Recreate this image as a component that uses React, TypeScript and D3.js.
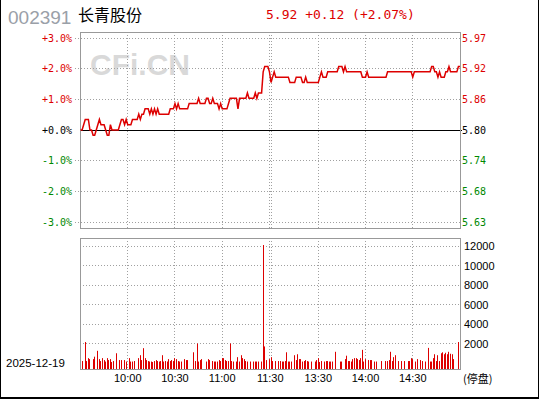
import React from 'react'
import * as d3 from 'd3'

// minute prices 9:30-11:30 (0..120) and 13:00-15:00 (121..241)
const prices = [
  5.80, 5.80, 5.81, 5.82, 5.82, 5.82, 5.80, 5.80, 5.79, 5.79,
  5.80, 5.81, 5.82, 5.81, 5.81, 5.81, 5.80, 5.79, 5.79, 5.81,
  5.80, 5.80, 5.80, 5.80, 5.80, 5.81, 5.82, 5.82, 5.81, 5.82,
  5.81, 5.81, 5.81, 5.82, 5.82, 5.82, 5.82, 5.83, 5.82, 5.83,
  5.83, 5.84, 5.84, 5.84, 5.83, 5.84, 5.83, 5.84, 5.83, 5.84,
  5.83, 5.83, 5.83, 5.83, 5.83, 5.83, 5.83, 5.84, 5.84, 5.84,
  5.85, 5.84, 5.85, 5.84, 5.84, 5.84, 5.84, 5.84, 5.84, 5.85,
  5.85, 5.85, 5.85, 5.85, 5.85, 5.86, 5.85, 5.85, 5.85, 5.85,
  5.86, 5.86, 5.85, 5.85, 5.86, 5.85, 5.85, 5.85, 5.84, 5.85,
  5.84, 5.84, 5.84, 5.84, 5.85, 5.86, 5.86, 5.86, 5.86, 5.86,
  5.84, 5.86, 5.86, 5.86, 5.86, 5.86, 5.87, 5.86, 5.86, 5.86,
  5.86, 5.87, 5.86, 5.87, 5.87, 5.87, 5.91, 5.92, 5.92, 5.92,
  5.91, 5.89, 5.90, 5.91, 5.90, 5.90, 5.90, 5.90, 5.90, 5.90,
  5.90, 5.90, 5.90, 5.89, 5.89, 5.89, 5.89, 5.90, 5.90, 5.90,
  5.90, 5.89, 5.89, 5.90, 5.89, 5.89, 5.89, 5.89, 5.89, 5.89,
  5.89, 5.89, 5.90, 5.91, 5.90, 5.90, 5.90, 5.91, 5.91, 5.91,
  5.91, 5.91, 5.91, 5.91, 5.92, 5.92, 5.92, 5.91, 5.92, 5.91,
  5.91, 5.91, 5.91, 5.91, 5.91, 5.91, 5.91, 5.91, 5.91, 5.90,
  5.90, 5.90, 5.91, 5.90, 5.90, 5.90, 5.90, 5.90, 5.90, 5.90,
  5.90, 5.90, 5.90, 5.90, 5.90, 5.91, 5.91, 5.91, 5.91, 5.91,
  5.91, 5.91, 5.91, 5.91, 5.91, 5.91, 5.91, 5.91, 5.91, 5.91,
  5.91, 5.90, 5.91, 5.91, 5.91, 5.91, 5.91, 5.91, 5.91, 5.91,
  5.91, 5.91, 5.91, 5.92, 5.92, 5.91, 5.91, 5.90, 5.91, 5.90,
  5.90, 5.90, 5.91, 5.91, 5.92, 5.91, 5.91, 5.91, 5.91, 5.91,
  5.92, 5.92,
]

const volumes = [
  0, 200, 0, 2150, 200, 500, 400, 0, 400, 650,
  0, 1250, 400, 200, 500, 300, 150, 500, 300, 400,
  100, 200, 0, 1000, 0, 300, 300, 0, 300, 150,
  0, 500, 150, 150, 200, 0, 0, 500, 800, 300,
  1520, 500, 300, 200, 150, 150, 100, 200, 300, 200,
  150, 200, 800, 150, 200, 150, 400, 200, 300, 200,
  500, 400, 200, 150, 150, 0, 400, 300, 300, 0,
  0, 0, 1100, 200, 2000, 150, 300, 400, 0, 0,
  150, 400, 300, 0, 200, 150, 150, 150, 300, 200,
  500, 500, 300, 200, 200, 2000, 200, 150, 0, 150,
  600, 150, 800, 500, 400, 200, 150, 0, 150, 0,
  150, 150, 150, 150, 0, 150, 12100, 1700, 300, 0,
  400, 600, 200, 0, 200, 0, 200, 200, 150, 150,
  200, 1100, 150, 150, 150, 0, 800, 300, 900, 400,
  400, 150, 200, 300, 200, 150, 0, 150, 0, 150,
  300, 500, 100, 200, 0, 150, 200, 200, 150, 150,
  150, 0, 1150, 0, 0, 150, 150, 0, 400, 750,
  200, 200, 150, 400, 500, 500, 400, 300, 500, 1350,
  150, 400, 0, 300, 300, 300, 0, 150, 150, 0,
  0, 200, 0, 0, 200, 200, 300, 1150, 200, 600,
  800, 0, 200, 0, 200, 0, 200, 0, 200, 200,
  500, 400, 0, 150, 400, 0, 300, 200, 0, 150,
  0, 1550, 150, 150, 500, 900, 200, 800, 200, 1000,
  1100, 900, 1050, 900, 1150, 950, 900, 400, 0, 0,
  2150, 0,
]

const prevClose = 5.80
const pctTicks = [3, 2, 1, 0, -1, -2, -3]
const priceLabels = ['5.97', '5.92', '5.86', '5.80', '5.74', '5.68', '5.63']
const volTicks = [12000, 10000, 8000, 6000, 4000, 2000]
const timeLabels = ['10:00', '10:30', '11:00', '11:30', '13:30', '14:00', '14:30']
const timeIdx = [30, 60, 90, 120, 151, 181, 211]

const RED = '#dd0000'
const GREEN = '#008800'
const GRID = '#a0a0a0'
const mono = '"DejaVu Sans Mono", monospace'
const sans = '"Liberation Sans", Arial, sans-serif'

const App = () => {
  const width = 540
  const height = 400
  const left = 80, right = 460
  const pTop = 32, pBottom = 228
  const vTop = 238, vBottom = 369

  const x = d3.scaleLinear().domain([0, prices.length - 1]).range([left + 0.5, right])
  const yPct = d3.scaleLinear().domain([-3, 3]).range([222, 38])
  const yVol = d3.scaleLinear().domain([0, 12000]).range([363, 246])

  const pct = (p) => (p - prevClose) / prevClose * 100
  const line = d3.line<number>().x((d, i) => x(i)).y(d => yPct(pct(d)))

  const colorOf = (v) => (v > 0 ? RED : v < 0 ? GREEN : '#000')
  const crisp = (v) => Math.floor(v) + 0.5

  // vertical grid: 11:30 and 13:00 both get a line
  const vLines = [30, 60, 90, 120, 121, 151, 181, 211]

  return (
    <svg width={width} height={height} style={{ position: 'absolute', left: 0, top: 0, background: '#fff' }}>
      {/* watermark */}
      <text x={90} y={75} fontFamily={sans} fontWeight="bold" fontSize={30} fill="#d9d9d9">CFi.CN</text>

      {/* header */}
      <text x={8} y={24} fontFamily={sans} fontSize={19} fill="#9aa0a8">002391</text>
      <text x={78} y={21} fontFamily='"Noto Sans CJK SC", sans-serif' fontSize={16} fill="#000">长青股份</text>
      <text x={266} y={19} fontFamily={mono} fontSize={13} fill={RED}>5.92 +0.12 (+2.07%)</text>

      {/* price panel grid */}
      {pctTicks.filter(t => t !== 0).map(t => (
        <line key={'ph' + t} x1={75} x2={right} y1={crisp(yPct(t))} y2={crisp(yPct(t))}
          stroke={GRID} strokeDasharray="1,2" />
      ))}
      {vLines.map(i => (
        <line key={'pv' + i} x1={crisp(x(i))} x2={crisp(x(i))} y1={pTop} y2={pBottom}
          stroke={GRID} strokeDasharray="1,2" />
      ))}
      <line x1={left} x2={right + 2} y1={crisp(yPct(0))} y2={crisp(yPct(0))} stroke="#000" />
      <rect x={left + 0.5} y={pTop + 0.5} width={right - left} height={pBottom - pTop} fill="none" stroke="#999" />

      {pctTicks.map((t, i) => (
        <g key={'pl' + t}>
          <text x={72} y={yPct(t) + 3.5} textAnchor="end" fontFamily={mono} fontSize={10} fill={colorOf(t)}>
            {(t > 0 ? '+' : t < 0 ? '' : '+') + t.toFixed(1) + '%'}
          </text>
          <text x={462} y={yPct(t) + 3.5} fontFamily={mono} fontSize={10} fill={colorOf(t)}>
            {priceLabels[i]}
          </text>
        </g>
      ))}

      <path d={line(prices) || ''} fill="none" stroke={RED} strokeWidth={1.5} />

      {/* volume panel */}
      {volTicks.map(t => (
        <line key={'vh' + t} x1={left} x2={right} y1={crisp(yVol(t))} y2={crisp(yVol(t))}
          stroke={GRID} strokeDasharray="1,2" />
      ))}
      {vLines.map(i => (
        <line key={'vv' + i} x1={crisp(x(i))} x2={crisp(x(i))} y1={vTop} y2={vBottom}
          stroke={GRID} strokeDasharray="1,2" />
      ))}
      {volumes.map((v, i) => v > 0 && (
        <rect key={'b' + i} x={Math.floor(x(i))} y={yVol(v)} width={1} height={vBottom - yVol(v)} fill={RED} />
      ))}
      <rect x={left + 0.5} y={vTop + 0.5} width={right - left} height={vBottom - vTop} fill="none" stroke="#999" />

      {volTicks.map(t => (
        <text key={'vl' + t} x={464} y={yVol(t) + 4} fontFamily={sans} fontSize={11} fill="#000">{t}</text>
      ))}

      {timeLabels.map((t, i) => (
        <text key={t} x={t === '11:30' ? x(120.5) : x(timeIdx[i])} y={382} textAnchor="middle"
          fontFamily={sans} fontSize={11} fill="#000">{t}</text>
      ))}
      <text x={463} y={383} fontFamily='"Noto Sans CJK SC", sans-serif' fontSize={11} fill="#000">(停盘)</text>
      <text x={6} y={367} fontFamily={sans} fontSize={11.5} fill="#000">2025-12-19</text>

      {/* outer frame */}
      <line x1={0.5} x2={0.5} y1={0} y2={399} stroke="#000" />
      <line x1={538.5} x2={538.5} y1={0} y2={399} stroke="#000" />
      <rect x={0} y={397} width={539} height={2} fill="#000" />
    </svg>
  )
}

export default App
